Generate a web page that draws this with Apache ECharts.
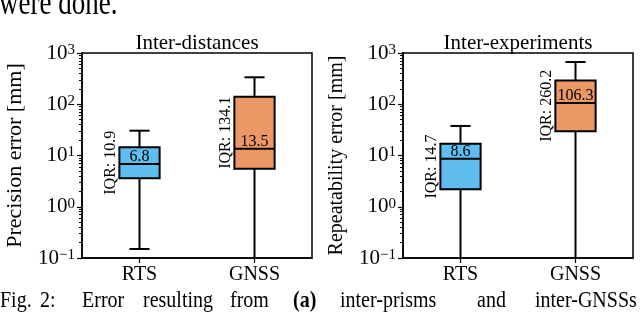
<!DOCTYPE html>
<html><head><meta charset="utf-8">
<script src="https://cdn.jsdelivr.net/npm/echarts@6/dist/echarts.min.js"></script>
<style>html,body{margin:0;padding:0;background:#fff}#c{width:640px;height:312px}</style>
</head><body><div id="c"></div>
<script>
const categories = ['RTS', 'GNSS'];
// Inter-distances (precision error, mm)
const precLow = [0.15, 0.05];
const precQ1 = [3.6, 5.5];
const precMedian = [6.8, 13.5];
const precQ3 = [14.5, 139.6];
const precHigh = [30.5, 336];
const precIQR = [10.9, 134.1];
// Inter-experiments (repeatability error, mm)
const repLow = [0.05, 0.05];
const repQ1 = [2.2, 29.8];
const repMedian = [8.6, 106.3];
const repQ3 = [16.9, 290];
const repHigh = [37.7, 667];
const repIQR = [14.7, 260.2];
const yMin = 0.1, yMax = 1000;
const titles = ['Inter-distances', 'Inter-experiments'];
const yNames = ['Precision error [mm]', 'Repeatability error [mm]'];
const captionWords = ['Fig.', '2:', 'Error', 'resulting', 'from', '(a)', 'inter-prisms', 'and', 'inter-GNSSs'];
const boxColors = ['#5FBDF0', '#EC9866'];

const FONT = '"Liberation Serif", "DejaVu Serif", serif';

function rows(lo, q1, md, q3, hi, iqr) {
  return categories.map((c, i) => [i, lo[i], q1[i], md[i], q3[i], hi[i], iqr[i]]);
}

function renderBox(params, api) {
  const i = api.value(0);
  const c = v => api.coord([i, v]);
  const lo = c(api.value(1)), q1 = c(api.value(2)), md = c(api.value(3)), q3 = c(api.value(4)), hi = c(api.value(5));
  const band = api.size([1, 0])[0];
  const bw = band * 0.35, cw = bw / 2;
  const x = md[0];
  const lw = 2;
  const line = (x1, y1, x2, y2) => ({ type: 'line', shape: { x1, y1, x2, y2 }, style: { stroke: '#000', lineWidth: lw } });
  return {
    type: 'group',
    children: [
      line(x, q1[1], x, lo[1]),
      line(x, q3[1], x, hi[1]),
      line(x - cw / 2, hi[1], x + cw / 2, hi[1]),
      line(x - cw / 2, lo[1], x + cw / 2, lo[1]),
      { type: 'rect', shape: { x: x - bw / 2, y: q3[1], width: bw, height: q1[1] - q3[1] },
        style: { fill: boxColors[i], stroke: '#000', lineWidth: lw } },
      line(x - bw / 2, md[1], x + bw / 2, md[1]),
      { type: 'text', x: x, y: md[1] + 1,
        style: { text: api.value(3).toFixed(1), font: '16px ' + FONT, fill: '#000', textAlign: 'center', textVerticalAlign: 'bottom' } },
      { type: 'text', x: x - bw / 2 - 9, y: (q1[1] + q3[1]) / 2, rotation: Math.PI / 2,
        style: { text: 'IQR: ' + api.value(6).toFixed(1), font: '16px ' + FONT, fill: '#000', textAlign: 'center', textVerticalAlign: 'middle' } }
    ]
  };
}

const minorVals = [];
for (let d = -1; d < 3; d++) for (let k = 2; k <= 9; k++) minorVals.push(Math.log10(k * Math.pow(10, d)));

function supLabel(v) {
  const e = Math.round(Math.log10(v));
  return '10{s|' + (e < 0 ? '\u2212' + (-e) : e) + '}';
}

const grids = [
  { left: 82, top: 53, width: 230, height: 205, show: true, borderColor: '#000', borderWidth: 1.5 },
  { left: 403, top: 53, width: 230, height: 205, show: true, borderColor: '#000', borderWidth: 1.5 }
];

const xAxes = [0, 1].map(g => ({
  type: 'category', gridIndex: g, data: categories, position: 'bottom',
  axisLine: { show: true, onZero: false, lineStyle: { color: '#000', width: 1.5 } },
  axisTick: { show: true, alignWithLabel: true, length: 5, lineStyle: { color: '#000', width: 1.2 } },
  axisLabel: { color: '#000', fontFamily: FONT, fontSize: 20, margin: 7 },
  splitLine: { show: false }
}));

const yAxes = [0, 1].map(g => ({
  type: 'log', logBase: 10, gridIndex: g, min: yMin, max: yMax, splitNumber: 4, position: 'left',
  name: yNames[g], nameLocation: 'middle', nameGap: 56,
  nameTextStyle: { color: '#000', fontFamily: FONT, fontSize: g === 0 ? 22 : 20 },
  axisLine: { show: true, onZero: false, lineStyle: { color: '#000', width: 1.5 } },
  axisTick: { show: true, length: 5, lineStyle: { color: '#000', width: 1.2 } },
  axisLabel: {
    color: '#000', fontFamily: FONT, fontSize: 21, lineHeight: 21, margin: 7,
    formatter: supLabel,
    rich: { s: { fontFamily: FONT, fontSize: 15, lineHeight: 14, verticalAlign: 'top', color: '#000' } }
  },
  splitLine: { show: false }
})).concat([0, 1].map(g => ({
  type: 'value', gridIndex: g, min: -1, max: 3, position: 'left', offset: 0,
  axisLine: { show: false, onZero: false },
  axisLabel: { show: false },
  splitLine: { show: false },
  axisTick: { show: true, length: 3, customValues: minorVals, lineStyle: { color: '#000', width: 1 } }
})));

const graphics = [];
titles.forEach((t, g) => {
  graphics.push({ type: 'text', x: grids[g].left + grids[g].width / 2, y: 54,
    style: { text: t, font: '21px ' + FONT, fill: '#000', textAlign: 'center', textVerticalAlign: 'bottom' } });
});
graphics.push({ type: 'text', x: -1, y: 22.5, scaleY: 1.35,
  style: { text: 'were done.', font: '27px ' + FONT, fill: '#000', textAlign: 'left', textVerticalAlign: 'bottom' } });
const captionX = [0, 40, 82, 143, 230, 293, 340, 477, 535];
captionWords.forEach((w, k) => {
  graphics.push({ type: 'text', x: captionX[k], y: 312.8, scaleY: 1.2,
    style: { text: w, font: (w === '(a)' ? 'bold ' : '') + '20px ' + FONT, fill: '#000', textAlign: 'left', textVerticalAlign: 'bottom' } });
});

const chart = echarts.init(document.getElementById('c'), null, { renderer: 'canvas' });
chart.setOption({
  animation: false,
  backgroundColor: '#fff',
  grid: grids,
  xAxis: xAxes,
  yAxis: yAxes,
  graphic: graphics,
  series: [
    { type: 'custom', xAxisIndex: 0, yAxisIndex: 0, clip: true, renderItem: renderBox,
      encode: { x: 0, y: [1, 2, 3, 4, 5] },
      data: rows(precLow, precQ1, precMedian, precQ3, precHigh, precIQR) },
    { type: 'custom', xAxisIndex: 1, yAxisIndex: 1, clip: true, renderItem: renderBox,
      encode: { x: 0, y: [1, 2, 3, 4, 5] },
      data: rows(repLow, repQ1, repMedian, repQ3, repHigh, repIQR) }
  ]
});
</script></body></html>
